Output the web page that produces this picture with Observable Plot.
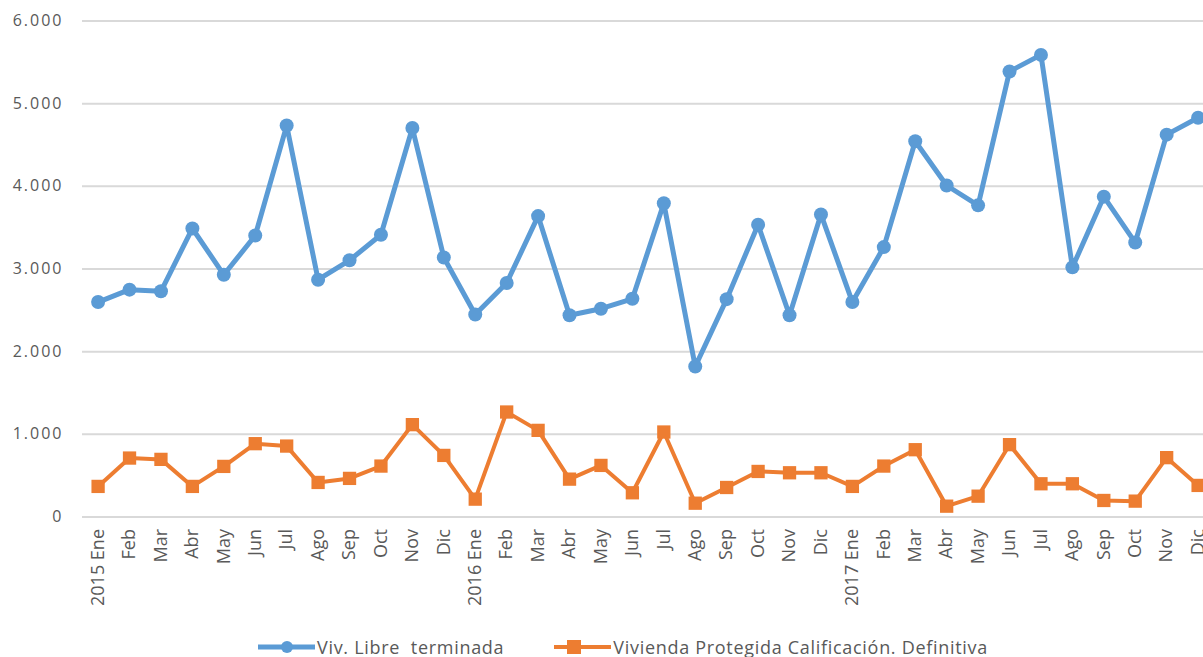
<!DOCTYPE html>
<html>
<head>
<meta charset="utf-8">
<script src="https://cdn.jsdelivr.net/npm/d3@7"></script>
<script src="https://cdn.jsdelivr.net/npm/@observablehq/plot@0.6"></script>
<style>
  html, body { margin: 0; padding: 0; background: #fff; overflow: hidden; }
  #chart svg { display: block; }
  #legend { display: flex; align-items: center; margin-left: 258px; height: 32px; margin-top: 6px;
    font-family: "Open Sans", Lato, sans-serif; font-size: 18px; letter-spacing: 0.7px; color: #595959; white-space: pre; }
  #legend .item { display: flex; align-items: center; }
  #legend svg { display: block; margin-right: 2px; }
</style>
</head>
<body>
<div id="chart"></div>
<div id="legend"></div>
<script>
const months = ["2015 Ene","Feb","Mar","Abr","May","Jun","Jul","Ago","Sep","Oct","Nov","Dic",
                "2016 Ene","Feb","Mar","Abr","May","Jun","Jul","Ago","Sep","Oct","Nov","Dic",
                "2017 Ene","Feb","Mar","Abr","May","Jun","Jul","Ago","Sep","Oct","Nov","Dic"];
const seriesNames = ["Viv. Libre  terminada", "Vivienda Protegida Calificación. Definitiva"];
const libre = [2600,2750,2730,3490,2930,3405,4735,2870,3105,3415,4705,3140,
               2450,2830,3640,2440,2520,2640,3795,1820,2635,3535,2440,3660,
               2600,3265,4545,4010,3770,5390,5590,3020,3875,3320,4625,4830];
const protegida = [370,713,697,370,612,887,858,418,467,616,1117,745,
                   216,1270,1048,458,624,293,1028,167,357,551,535,535,
                   370,616,814,131,252,875,402,402,200,192,718,382];
const yTicks = [0,1000,2000,3000,4000,5000,6000];
const colors = ["#5B9BD5", "#ED7D31"];

const rows1 = libre.map((v, i) => ({i, v}));
const rows2 = protegida.map((v, i) => ({i, v}));
const fmt = d => d3.format(",")(d).replace(/,/g, ".");

const plot = Plot.plot({
  width: 1203, height: 625,
  marginLeft: 82, marginRight: 0, marginTop: 20.5, marginBottom: 108.5,
  style: {fontFamily: "'Open Sans', Lato, sans-serif", fontSize: "16px", color: "#595959", background: "#fff"},
  x: {type: "linear", domain: [0, 35], range: [97.6, 1197.6]},
  y: {domain: [0, 6000]},
  marks: [
    Plot.gridY(yTicks, {stroke: "#d9d9d9", strokeOpacity: 1, strokeWidth: 2}),
    Plot.axisY(yTicks, {tickSize: 0, tickPadding: 19, tickFormat: fmt, fill: "#595959", label: null}),
    Plot.axisX(d3.range(36), {tickSize: 0, tickPadding: 12, tickRotate: -90, tickFormat: i => months[i], fill: "#595959", label: null}),
    Plot.line(rows1, {x: "i", y: "v", stroke: colors[0], strokeWidth: 5}),
    Plot.dot(rows1, {x: "i", y: "v", fill: colors[0], r: 7, symbol: "circle"}),
    Plot.line(rows2, {x: "i", y: "v", stroke: colors[1], strokeWidth: 4}),
    Plot.dot(rows2, {x: "i", y: "v", fill: colors[1], r: 7.5, symbol: "square"})
  ]
});
d3.select(plot).selectAll('g[aria-label="y-axis tick label"]').attr("font-size", 16).style("letter-spacing", "2px");
d3.select(plot).selectAll('g[aria-label="x-axis tick label"]').attr("font-size", 18);
document.getElementById("chart").appendChild(plot);

const legend = d3.select("#legend");
seriesNames.forEach((name, k) => {
  const item = legend.append("div").attr("class", "item").style("margin-right", k === 0 ? "50px" : "0");
  const s = item.append("svg").attr("width", 57).attr("height", 16);
  s.append("line").attr("x1", 0).attr("x2", 57).attr("y1", 8).attr("y2", 8)
    .attr("stroke", colors[k]).attr("stroke-width", k === 0 ? 5 : 4).attr("stroke-linecap", k === 0 ? "round" : "butt");
  if (k === 0) s.append("circle").attr("cx", 29).attr("cy", 8).attr("r", 6).attr("fill", colors[k]);
  else s.append("rect").attr("x", 13).attr("y", 1).attr("width", 14).attr("height", 14).attr("fill", colors[k]);
  item.append("span").text(name);
});
</script>
</body>
</html>
